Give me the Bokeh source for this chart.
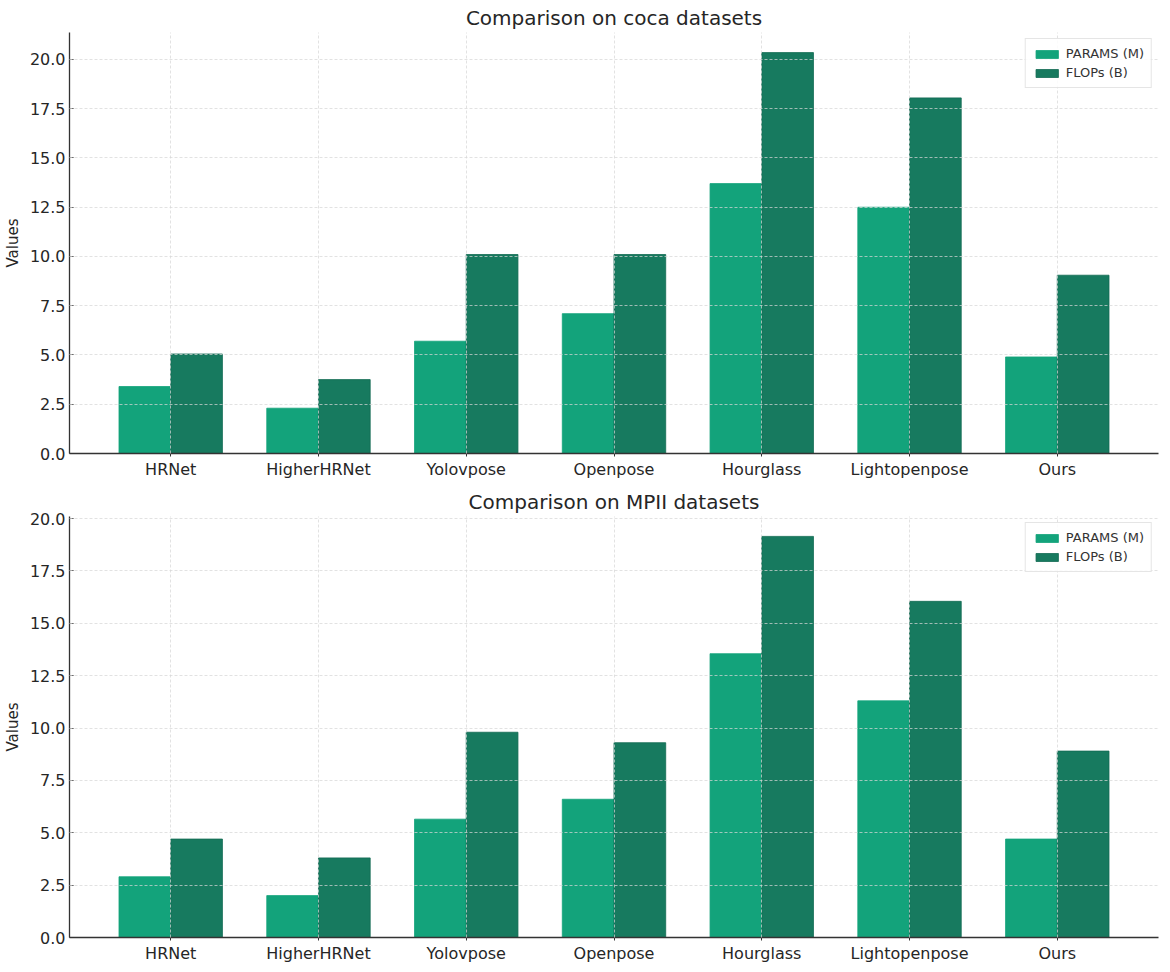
from bokeh.plotting import figure
from bokeh.models import FactorRange, Range1d, FixedTicker, NumeralTickFormatter, ColumnDataSource, Legend, LegendItem
from bokeh.transform import dodge
from bokeh.layouts import column
from bokeh.embed import file_html
from bokeh.resources import INLINE

categories = ["HRNet", "HigherHRNet", "Yolovpose", "Openpose", "Hourglass", "Lightopenpose", "Ours"]
coco_params = [3.4, 2.3, 5.7, 7.1, 13.7, 12.5, 4.9]
coco_flops = [5.05, 3.75, 10.1, 10.1, 20.35, 18.05, 9.05]
mpii_params = [2.9, 2.0, 5.65, 6.6, 13.55, 11.3, 4.7]
mpii_flops = [4.7, 3.8, 9.8, 9.3, 19.15, 16.05, 8.9]
y_ticks = [0, 2.5, 5, 7.5, 10, 12.5, 15, 17.5, 20]
series_labels = ["PARAMS (M)", "FLOPs (B)"]

C_PARAMS = "#13a37b"
C_FLOPS = "#177a5f"
FONT = "DejaVu Sans"


def make_panel(title, params, flops, ytop, frame_h, border_top, border_bottom):
    src = ColumnDataSource(dict(cat=categories, params=params, flops=flops))
    xr = FactorRange(factors=categories, range_padding=0.185, range_padding_units="absolute")
    p = figure(x_range=xr, y_range=Range1d(0, ytop),
               frame_width=1089, frame_height=frame_h,
               output_backend="svg", toolbar_location=None,
               min_border_left=61, min_border_right=4,
               min_border_top=border_top, min_border_bottom=border_bottom)
    p.title.text = title
    p.title.align = "center"
    p.title.text_font = FONT
    p.title.text_font_size = "20px"
    p.title.text_font_style = "normal"
    p.title.text_color = "#262626"
    p.title.standoff = 5
    p.title.offset = 0

    r1 = p.vbar(x=dodge("cat", -0.175, range=xr), top="params", width=0.35, source=src,
                fill_color=C_PARAMS, line_color=C_PARAMS, line_width=0.8)
    r2 = p.vbar(x=dodge("cat", 0.175, range=xr), top="flops", width=0.35, source=src,
                fill_color=C_FLOPS, line_color="#136b53", line_width=0.8)

    p.outline_line_color = None
    p.background_fill_color = "white"
    for g in (p.xgrid, p.ygrid):
        g.grid_line_color = "#d6d6d6"
        g.grid_line_dash = "3 2"
        g.grid_line_alpha = 0.9
        g.grid_line_width = 0.8
        g.level = "guide"

    p.yaxis.ticker = FixedTicker(ticks=y_ticks)
    p.yaxis.formatter = NumeralTickFormatter(format="0.0")
    p.yaxis.axis_label = "Values"
    p.yaxis.axis_label_text_font = FONT
    p.yaxis.axis_label_text_font_size = "15px"
    p.yaxis.axis_label_text_font_style = "normal"
    p.yaxis.axis_label_text_color = "#262626"
    p.yaxis.axis_label_standoff = 5
    p.yaxis.major_tick_in = 4
    p.yaxis.major_tick_out = 0
    p.yaxis.minor_tick_line_color = None
    p.yaxis.major_label_standoff = 4

    p.xaxis.major_tick_in = 0
    p.xaxis.major_tick_out = 3
    p.xaxis.major_label_standoff = 3

    for ax in (p.xaxis, p.yaxis):
        ax.axis_line_color = "#333333"
        ax.axis_line_width = 1.3
        ax.major_tick_line_color = "#333333"
        ax.major_label_text_font = FONT
        ax.major_label_text_font_size = "16px"
        ax.major_label_text_color = "#262626"

    legend = Legend(items=[LegendItem(label=series_labels[0], renderers=[r1]),
                           LegendItem(label=series_labels[1], renderers=[r2])],
                    location="top_right")
    legend.label_text_font = FONT
    legend.label_text_font_size = "13px"
    legend.label_text_color = "#333333"
    legend.glyph_width = 28
    legend.glyph_height = 10
    legend.label_height = 14
    legend.spacing = 4
    legend.padding = 7
    legend.margin = 6
    legend.border_line_color = "#cccccc"
    legend.background_fill_alpha = 0.85
    p.add_layout(legend)
    return p


p1 = make_panel("Comparison on coca datasets", coco_params, coco_flops, 21.37, 421, 32, 25)
p2 = make_panel("Comparison on MPII datasets", mpii_params, mpii_flops, 20.1, 421, 35, 24)

layout = column(p1, p2, spacing=0)
open("out.html", "w").write(file_html(layout, INLINE))
